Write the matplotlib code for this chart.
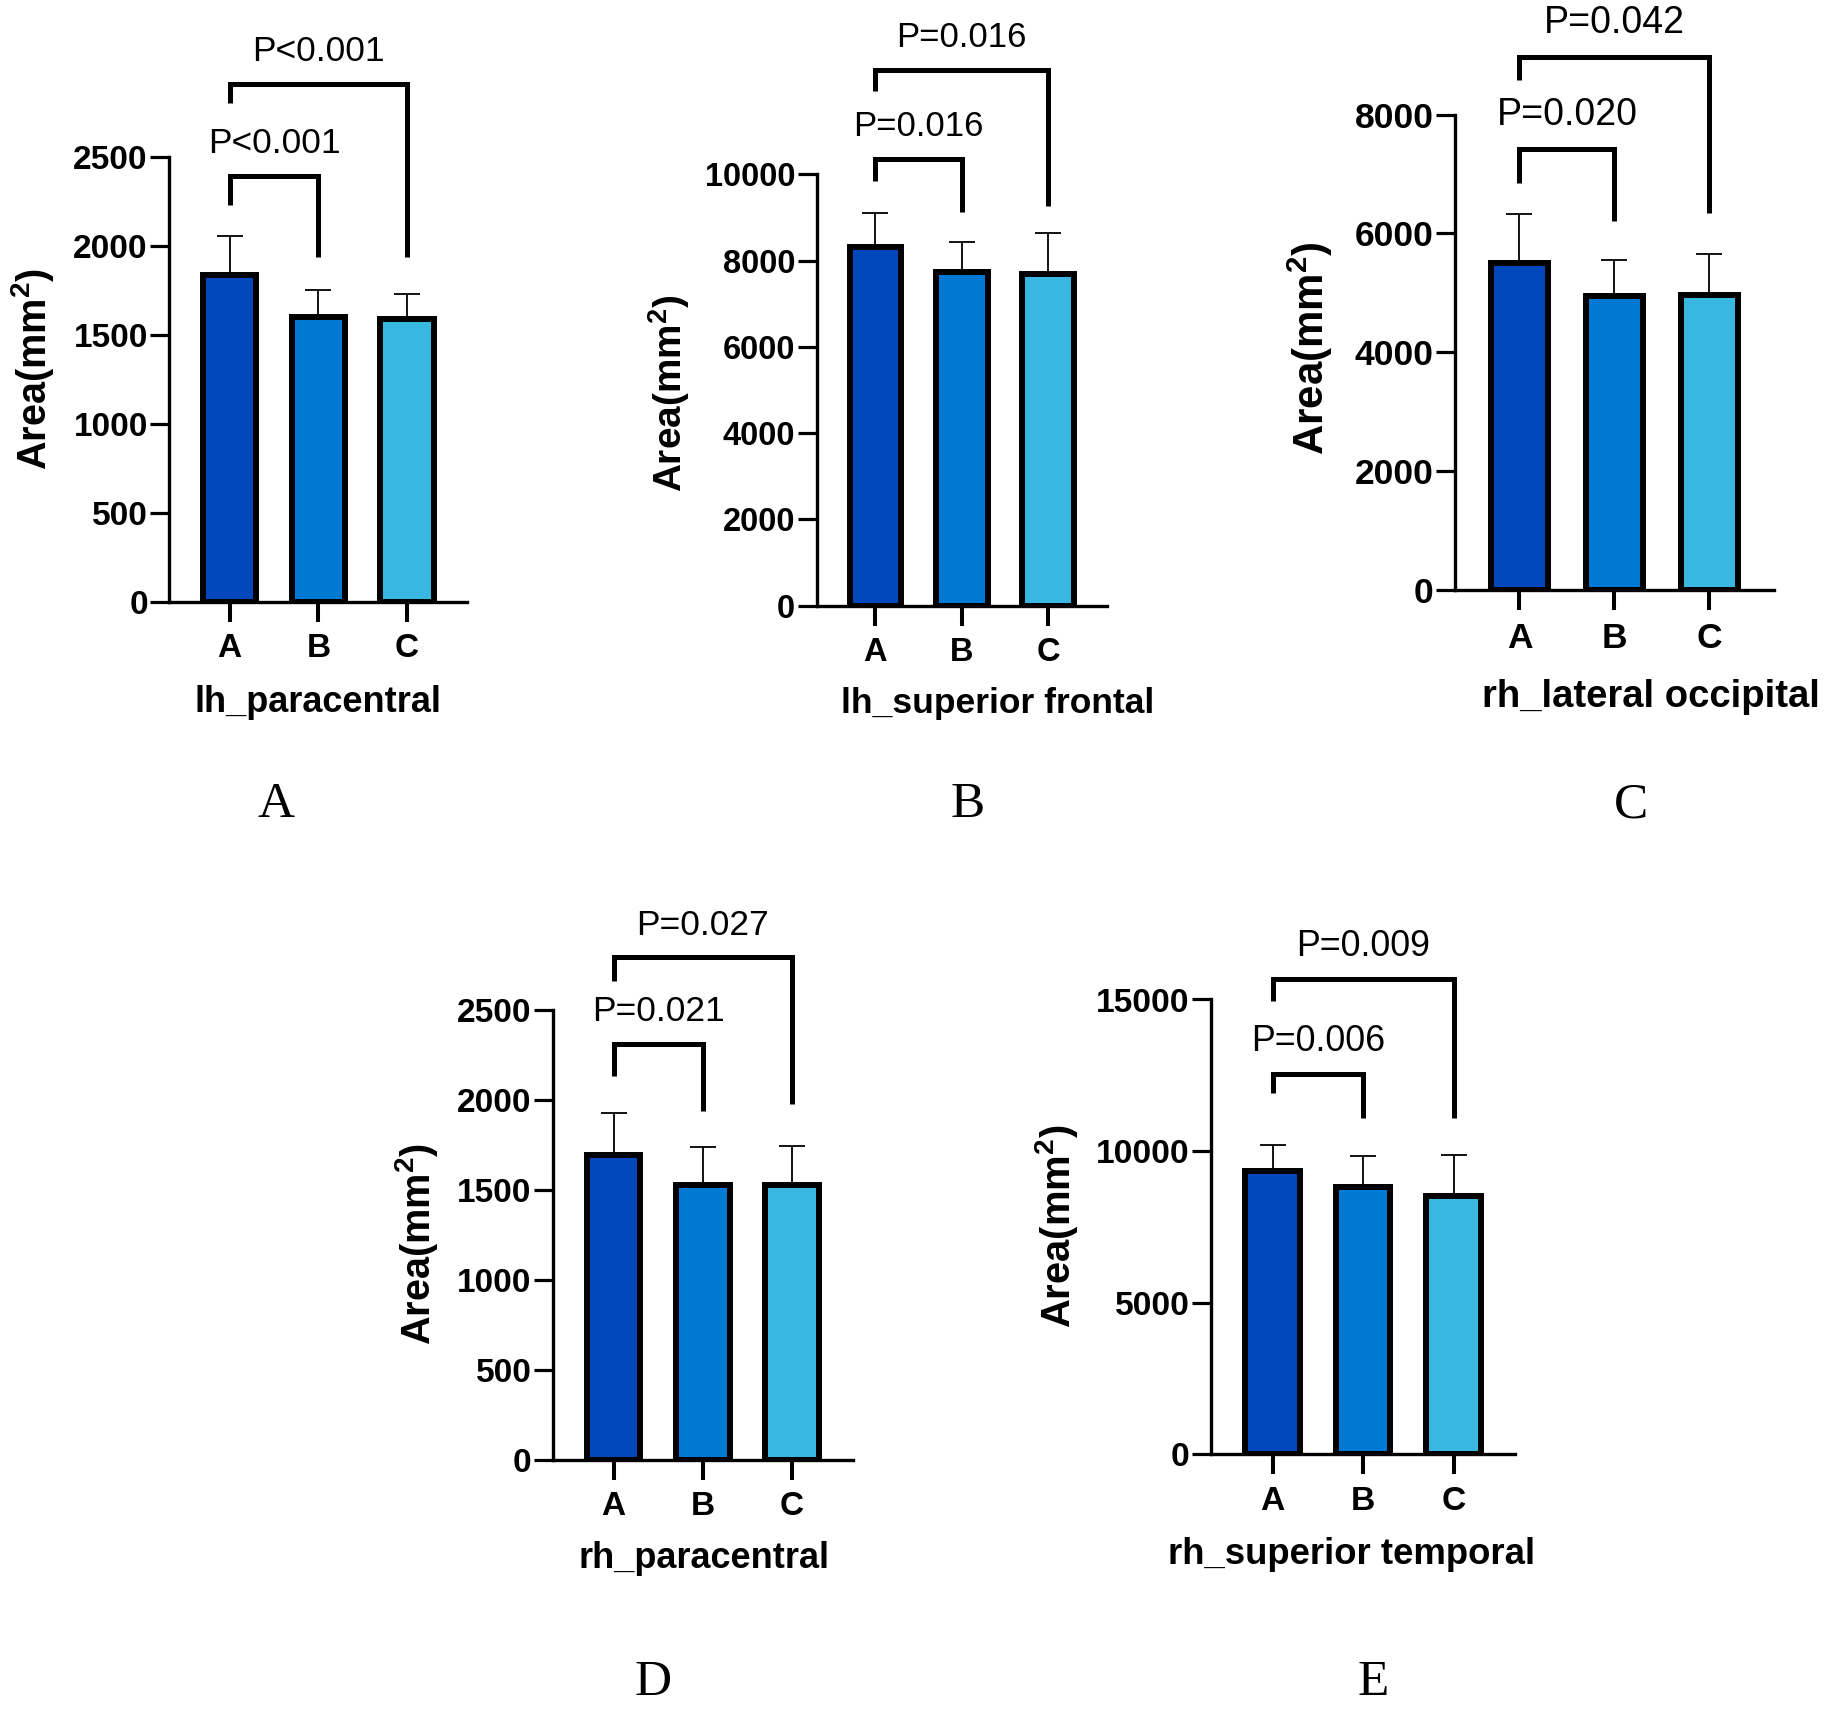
import numpy as np
import matplotlib
matplotlib.use('Agg')
import matplotlib.pyplot as plt

# Polices : Arial -> Liberation Sans, Times -> Liberation Serif
plt.rcParams['font.family'] = ['Liberation Sans', 'DejaVu Sans']
plt.rcParams['mathtext.fontset'] = 'custom'
plt.rcParams['mathtext.rm'] = 'Liberation Sans'
plt.rcParams['mathtext.bf'] = 'Liberation Sans:bold'

# ==========
# = Données =
# ==========
groups = ['A', 'B', 'C']
colors = ['#0047BB', '#0079D3', '#3AB7E0']

regions = ['lh_paracentral', 'lh_superior frontal', 'rh_lateral occipital',
           'rh_paracentral', 'rh_superior temporal']
panel_letters = ['A', 'B', 'C', 'D', 'E']

# moyennes et écarts-types (mm^2)
mean_lh_paracentral = [1840, 1600, 1590]
sd_lh_paracentral = [220, 155, 140]
mean_lh_sup_frontal = [8320, 7730, 7690]
sd_lh_sup_frontal = [790, 710, 960]
mean_rh_lat_occipital = [5500, 4940, 4970]
sd_rh_lat_occipital = [830, 620, 690]
mean_rh_paracentral = [1695, 1530, 1530]
sd_rh_paracentral = [235, 210, 215]
mean_rh_sup_temporal = [9360, 8810, 8520]
sd_rh_sup_temporal = [845, 1040, 1365]

means = [mean_lh_paracentral, mean_lh_sup_frontal, mean_rh_lat_occipital,
         mean_rh_paracentral, mean_rh_sup_temporal]
sds = [sd_lh_paracentral, sd_lh_sup_frontal, sd_rh_lat_occipital,
       sd_rh_paracentral, sd_rh_sup_temporal]

# valeurs P : (A vs B, A vs C)
p_ab = ['P<0.001', 'P=0.016', 'P=0.020', 'P=0.021', 'P=0.006']
p_ac = ['P<0.001', 'P=0.016', 'P=0.042', 'P=0.027', 'P=0.009']

# ===========================
# = Mise en page (en pixels) =
# ===========================
W, H = 1831, 1711
XLIM = (-0.68, 2.68)

# left, y0, top, spacing, ymax, ystep, ylabel(x,y), xlabel(x,y), letter(x,y), fs
layout = [
    dict(left=169.3, y0=601.7, top=157.3, sp=88.7, ymax=2500, step=500,
         yl=(33, 369), xl=(317.6, 703), lt=(275.6, 805), fs=1.0),
    dict(left=816.7, y0=605.7, top=174.3, sp=86.35, ymax=10000, step=2000,
         yl=(669, 393), xl=(997.8, 704), lt=(968, 805), fs=0.98),
    dict(left=1455, y0=590.3, top=114.5, sp=94.85, ymax=8000, step=2000,
         yl=(1310, 348), xl=(1651, 697), lt=(1631, 805), fs=1.06),
    dict(left=553, y0=1460, top=1010, sp=89.2, ymax=2500, step=500,
         yl=(417, 1244), xl=(704, 1558), lt=(652.7, 1683), fs=1.0),
    dict(left=1211, y0=1454.3, top=999.5, sp=90.5, ymax=15000, step=5000,
         yl=(1057, 1226), xl=(1352, 1555), lt=(1373, 1683), fs=1.01),
]

# crochets de comparaison (en unités de données) : (haut, jambe gauche, jambe droite)
brackets_ab = [(2396, 2232, 1937), (10357, 9854, 9121), (7420, 6853, 6205),
               (2311, 2133, 1939), (12550, 11921, 11104)]
brackets_ac = [(2912, 2806, 1937), (12420, 11933, 9274), (8967, 8574, 6339),
               (2792, 2661, 1978), (15686, 14940, 11104)]


def bracket(ax, x0, x1, yb, text, fs):
    ytop, yleft, yright = yb
    ax.plot([x0, x0, x1, x1], [yleft, ytop, ytop, yright], color='black',
            lw=3.6, solid_joinstyle='miter', solid_capstyle='butt',
            clip_on=False, zorder=5)
    ax.annotate(text, xy=((x0 + x1) / 2, ytop), xytext=(0, 16.5 * fs),
                textcoords='offset points', ha='center', va='baseline',
                fontsize=25.5 * fs, annotation_clip=False)


fig = plt.figure(figsize=(W / 100, H / 100), dpi=100)

x = np.arange(len(groups))
for i, lay in enumerate(layout):
    fs = lay['fs']
    width = lay['sp'] * (XLIM[1] - XLIM[0])
    ax = fig.add_axes([lay['left'] / W, 1 - lay['y0'] / H,
                       width / W, (lay['y0'] - lay['top']) / H])

    ax.errorbar(x, means[i], yerr=[np.zeros(3), sds[i]], fmt='none',
                ecolor='black', elinewidth=1.3, capsize=9.6, capthick=1.3,
                zorder=1)
    ax.bar(x, means[i], width=0.6, color=colors, edgecolor='black',
           linewidth=4.3, zorder=2)

    ax.set_xlim(*XLIM)
    ax.set_ylim(0, lay['ymax'])
    yt = np.arange(0, lay['ymax'] + 1, lay['step'])
    ax.set_yticks(yt, labels=[str(v) for v in yt], fontweight='bold',
                  fontsize=24 * fs)
    ax.set_xticks(x, labels=groups, fontweight='bold', fontsize=24 * fs)

    for s in ['top', 'right']:
        ax.spines[s].set_visible(False)
    for s in ['left', 'bottom']:
        ax.spines[s].set_linewidth(2.4)
    ax.tick_params(axis='y', length=13.5, width=2.3, pad=2)
    ax.tick_params(axis='x', length=14.5, width=2.9, pad=8)

    ax.set_ylabel(r'Area(mm$^{\mathbf{2}}$)', fontweight='bold',
                  fontsize=28.5 * fs)
    ax.yaxis.set_label_coords(lay['yl'][0] / W, 1 - lay['yl'][1] / H,
                              transform=fig.transFigure)
    ax.yaxis.label.set_va('center')
    ax.set_xlabel(regions[i], fontweight='bold', fontsize=26 * fs)
    ax.xaxis.set_label_coords(lay['xl'][0] / W, 1 - lay['xl'][1] / H,
                              transform=fig.transFigure)
    ax.xaxis.label.set_va('center')

    bracket(ax, 0, 1, brackets_ab[i], p_ab[i], fs)
    bracket(ax, 0, 2, brackets_ac[i], p_ac[i], fs)

    fig.text(lay['lt'][0] / W, 1 - lay['lt'][1] / H, panel_letters[i],
             family=['Liberation Serif', 'DejaVu Serif'], fontsize=37,
             ha='center', va='center')

fig.savefig('out.png', dpi=100, facecolor='white')
